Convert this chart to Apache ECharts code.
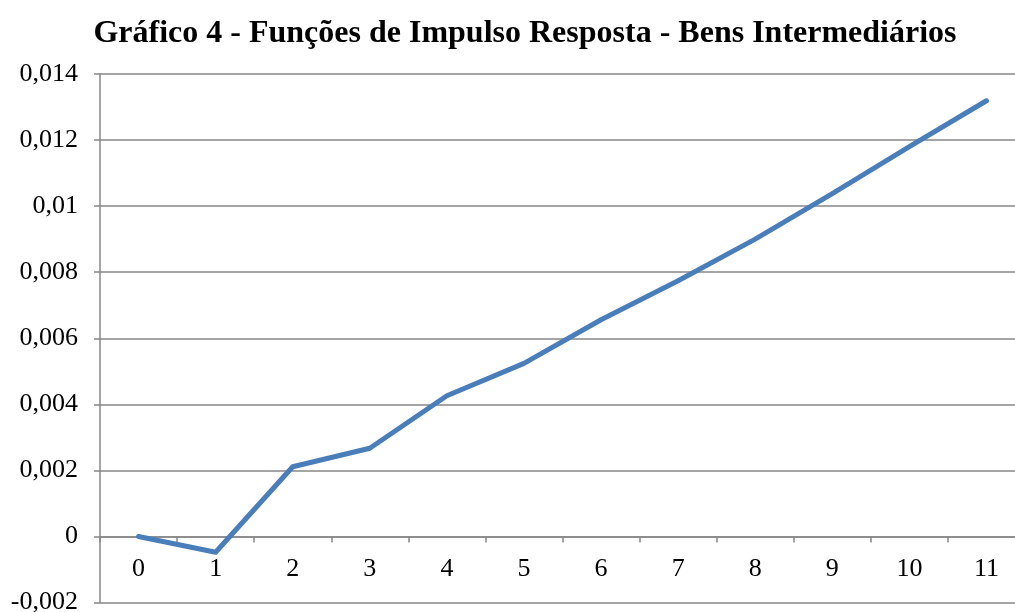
<!DOCTYPE html>
<html>
<head>
<meta charset="utf-8">
<script src="https://cdn.jsdelivr.net/npm/echarts@6/dist/echarts.min.js"></script>
<style>
html,body{margin:0;padding:0;background:#fff;overflow:hidden;}
#chart{width:1015px;height:612px;}
</style>
</head>
<body>
<div id="chart"></div>
<script>
const titleText = 'Gráfico 4 - Funções de Impulso Resposta - Bens Intermediários';
const categories = ['0','1','2','3','4','5','6','7','8','9','10','11'];
const values = [0, -0.00048, 0.00211, 0.00267, 0.00426, 0.00524, 0.00656, 0.00774, 0.00900, 0.01038, 0.01180, 0.01319];
const yMin = -0.002, yMax = 0.014, yStep = 0.002;

const chart = echarts.init(document.getElementById('chart'), null, {renderer:'canvas'});
const font = '"Liberation Serif","Times New Roman",serif';
const gray = '#878787';
chart.setOption({
  animation:false,
  backgroundColor:'#fff',
  title:{
    text:titleText, left:520, textAlign:'center', top:13,
    textStyle:{fontFamily:font, fontWeight:'bold', fontSize:32, color:'#000'}
  },
  grid:{left:100, top:74, bottom:9.5, right:-10, containLabel:false, outerBoundsMode:'none'},
  xAxis:{
    type:'category', data:categories, boundaryGap:true, position:'bottom', offset:0,
    axisLine:{onZero:false, lineStyle:{color:gray, width:1.5}},
    axisTick:{show:true, length:6, inside:false, lineStyle:{color:gray, width:1.5}},
    axisLabel:{fontFamily:font, fontSize:26, color:'#000', margin:20, interval:0},
    splitLine:{show:false}
  },
  yAxis:{
    type:'value', min:yMin, max:yMax, interval:yStep,
    axisLine:{show:true, lineStyle:{color:gray, width:1.5}},
    axisTick:{show:true, length:6, lineStyle:{color:gray, width:1.5}},
    axisLabel:{fontFamily:font, fontSize:26, color:'#000', margin:22,
      formatter:v => String(+v.toFixed(3)).replace('.', ',')},
    splitLine:{show:true, lineStyle:{color:gray, width:1.5}}
  },
  series:[{
    type:'line', data:values, symbol:'none',
    lineStyle:{color:'#4a7ebb', width:5, cap:'round', join:'round'}
  }]
});
// place the category axis on the zero line (library scale)
const yZero = chart.convertToPixel({yAxisIndex:0}, 0);
const yBottom = chart.convertToPixel({yAxisIndex:0}, yMin);
chart.setOption({xAxis:{offset:-(yBottom - yZero)}});
</script>
</body>
</html>
